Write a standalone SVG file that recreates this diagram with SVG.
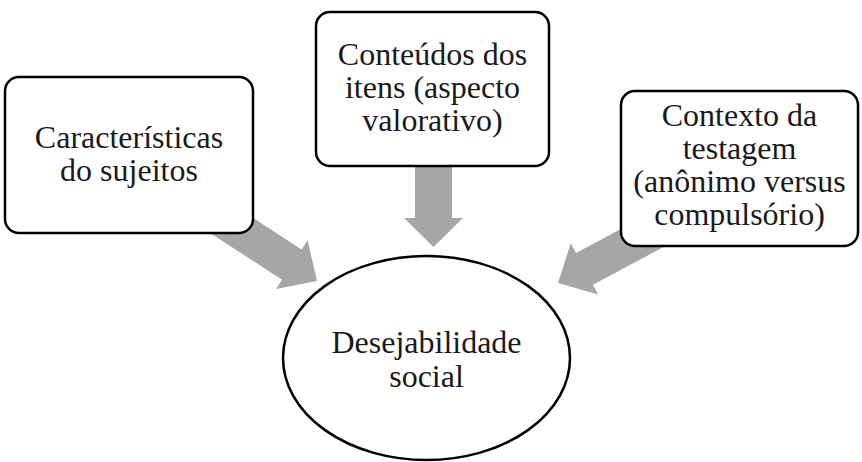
<svg xmlns="http://www.w3.org/2000/svg" width="862" height="462" viewBox="0 0 862 462">
<style>
.box{fill:#ffffff;stroke:#000000;stroke-width:2.5}
.arrow{fill:#a6a6a6;stroke:none}
.lbl{font-family:'Liberation Serif','Times New Roman',serif;font-size:32px;fill:#1a1a1a;text-anchor:middle}
</style>
<defs>
<polygon id="arr" points="0,0 -30,-29 -30,-18 -125,-18 -125,18 -30,18 -30,29"/>
</defs>
<rect width="862" height="462" fill="#ffffff"/>
<g id="connectors">
<use href="#arr" class="arrow" transform="translate(317,281) rotate(33)"/>
<polygon class="arrow" points="415,160 452,160 452,218 463,218 433.5,247 404,218 415,218"/>
<use href="#arr" class="arrow" transform="translate(558,283) rotate(151.9)"/>
</g>
<g id="caracteristicas">
<rect class="box" x="5" y="77" width="248" height="156" rx="14"/>
<text class="lbl" x="129" y="148">Características</text>
<text class="lbl" x="129" y="181">do sujeitos</text>
</g>
<g id="conteudos">
<rect class="box" x="316" y="12" width="233" height="154" rx="14"/>
<text class="lbl" x="432.5" y="65">Conteúdos dos</text>
<text class="lbl" x="432.5" y="98">itens (aspecto</text>
<text class="lbl" x="432.5" y="131">valorativo)</text>
</g>
<g id="contexto">
<rect class="box" x="621" y="91" width="237" height="155" rx="14"/>
<text class="lbl" x="739.5" y="126">Contexto da</text>
<text class="lbl" x="739.5" y="159">testagem</text>
<text class="lbl" x="739.5" y="192">(anônimo versus</text>
<text class="lbl" x="739.5" y="225">compulsório)</text>
</g>
<g id="desejabilidade">
<ellipse class="box" cx="426.5" cy="358" rx="143.5" ry="102"/>
<text class="lbl" x="426.5" y="353">Desejabilidade</text>
<text class="lbl" x="426.5" y="387">social</text>
</g>
</svg>
